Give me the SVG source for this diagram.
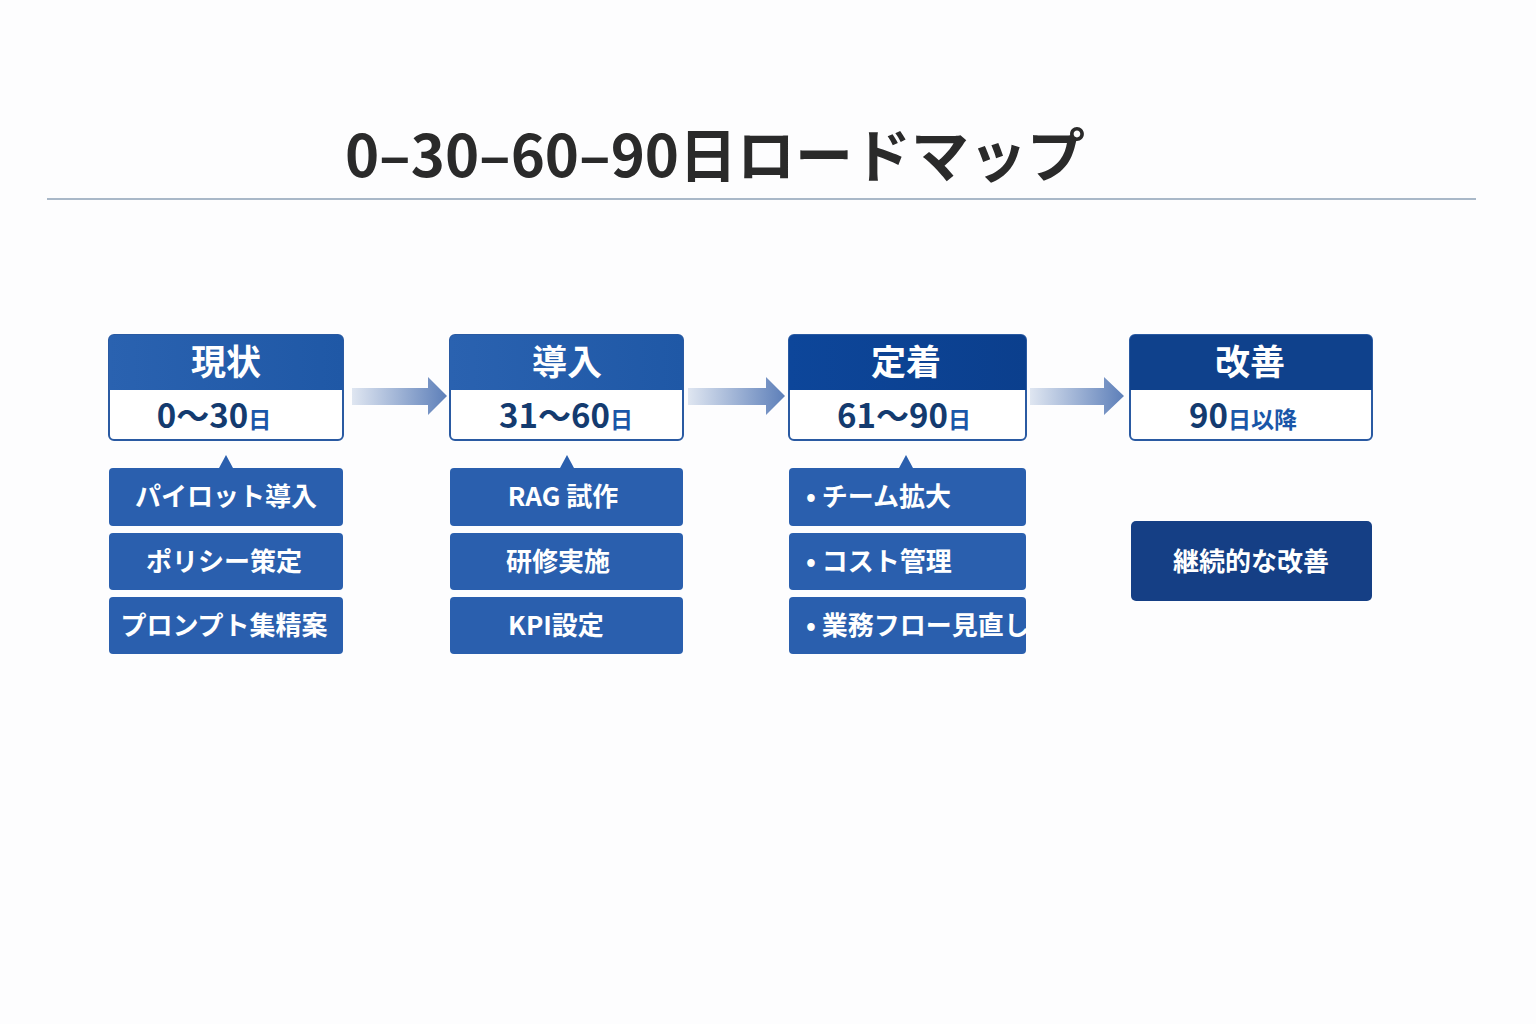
<svg xmlns="http://www.w3.org/2000/svg" width="1536" height="1024" viewBox="0 0 1536 1024">
<defs>
<linearGradient id="ag" x1="0" x2="1" y1="0" y2="0"><stop offset="0" stop-color="#dfe6f1"/><stop offset="1" stop-color="#5d7fb9"/></linearGradient>
<linearGradient id="hb" x1="0" x2="1"><stop offset="0" stop-color="#2a62b0"/><stop offset="1" stop-color="#1f58a6"/></linearGradient>
<linearGradient id="hd" x1="0" x2="1"><stop offset="0" stop-color="#0d469a"/><stop offset="1" stop-color="#0b3f8d"/></linearGradient>
<style>
text{font-family:"Noto Sans CJK JP","Noto Sans",sans-serif;font-weight:700;text-anchor:middle}
.ht{fill:#fff;font-size:35px}
.st{fill:#143b6f;font-size:33px}
.d{fill:#1a56a8;font-size:23px}
.it{fill:#fff;font-size:26px}
.itl{fill:#fff;font-size:26px;text-anchor:start}
.box{fill:#fff;stroke:#2a5aa2;stroke-width:2}
.item{fill:#2a5fae}
</style>
</defs>
<rect width="1536" height="1024" fill="#fdfdfe"/>
<text x="715" y="177" style="font-size:58px;fill:#2a2a2a">0–30–60–90日ロードマップ</text>
<line x1="47" y1="199" x2="1476" y2="199" stroke="#a9b8c8" stroke-width="2"/>
<g id="connectors">
<polygon points="352,388 428,388 428,377 447,396 428,415 428,405 352,405" fill="url(#ag)"/>
<polygon points="688,388 766,388 766,377 785,396 766,415 766,405 688,405" fill="url(#ag)"/>
<polygon points="1030,388 1104,388 1104,377 1124,396 1104,415 1104,405 1030,405" fill="url(#ag)"/>
</g>
<g id="phase1">
<rect class="box" x="109" y="335" width="234" height="105" rx="5"/>
<path d="M109,340 a5,5 0 0 1 5,-5 h224 a5,5 0 0 1 5,5 v50 h-234 z" fill="url(#hb)"/>
<text class="ht" x="226" y="375">現状</text>
<text class="st" x="214" y="428">0～30<tspan class="d">日</tspan></text>
</g>
<g id="phase2">
<rect class="box" x="450" y="335" width="233" height="105" rx="5"/>
<path d="M450,340 a5,5 0 0 1 5,-5 h223 a5,5 0 0 1 5,5 v50 h-233 z" fill="url(#hb)"/>
<text class="ht" x="567" y="375">導入</text>
<text class="st" x="566" y="428">31～60<tspan class="d">日</tspan></text>
</g>
<g id="phase3">
<rect class="box" x="789" y="335" width="237" height="105" rx="5"/>
<path d="M789,340 a5,5 0 0 1 5,-5 h227 a5,5 0 0 1 5,5 v50 h-237 z" fill="url(#hd)"/>
<text class="ht" x="906" y="375">定着</text>
<text class="st" x="904" y="428">61～90<tspan class="d">日</tspan></text>
</g>
<g id="phase4">
<rect class="box" x="1130" y="335" width="242" height="105" rx="5"/>
<path d="M1130,340 a5,5 0 0 1 5,-5 h232 a5,5 0 0 1 5,5 v50 h-242 z" fill="#0f418c"/>
<text class="ht" x="1250" y="375">改善</text>
<text class="st" x="1243" y="428">90<tspan class="d">日以降</tspan></text>
</g>
<g id="items1">
<polygon points="219,468 226,455 233,468" fill="#2a5fae"/>
<rect class="item" x="109" y="468" width="234" height="58" rx="4"/>
<text class="it" x="226" y="506">パイロット導入</text>
<rect class="item" x="109" y="533" width="234" height="57" rx="4"/>
<text class="it" x="224" y="571">ポリシー策定</text>
<rect class="item" x="109" y="597" width="234" height="57" rx="4"/>
<text class="it" x="224" y="635">プロンプト集精案</text>
</g>
<g id="items2">
<polygon points="560,468 567,455 574,468" fill="#2a5fae"/>
<rect class="item" x="450" y="468" width="233" height="58" rx="4"/>
<text class="it" x="563" y="506">RAG 試作</text>
<rect class="item" x="450" y="533" width="233" height="57" rx="4"/>
<text class="it" x="558" y="571">研修実施</text>
<rect class="item" x="450" y="597" width="233" height="57" rx="4"/>
<text class="it" x="556" y="635">KPI設定</text>
</g>
<g id="items3">
<polygon points="899,468 906,455 913,468" fill="#2a5fae"/>
<rect class="item" x="789" y="468" width="237" height="58" rx="4"/>
<text class="itl" x="806" y="506">• チーム拡大</text>
<rect class="item" x="789" y="533" width="237" height="57" rx="4"/>
<text class="itl" x="806" y="571">• コスト管理</text>
<rect class="item" x="789" y="597" width="237" height="57" rx="4"/>
<text class="itl" x="806" y="635">• 業務フロー見直し</text>
</g>
<g id="items4">
<rect x="1131" y="521" width="241" height="80" rx="5" fill="#153f85"/>
<text class="it" x="1251" y="571">継続的な改善</text>
</g>
</svg>
